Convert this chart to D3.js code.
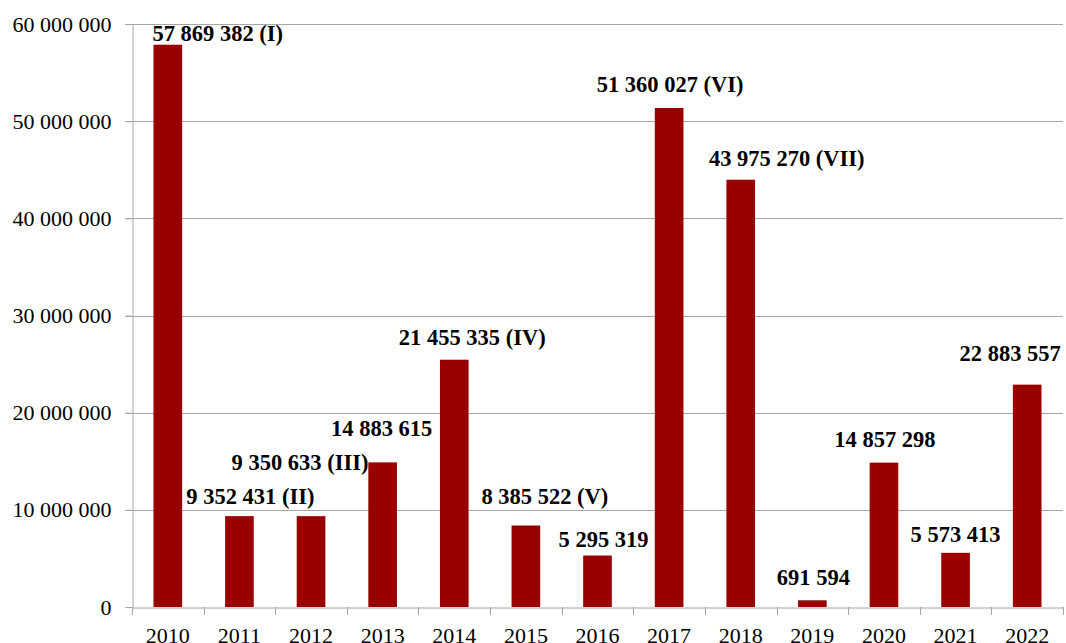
<!DOCTYPE html>
<html>
<head>
<meta charset="utf-8">
<script src="https://cdn.jsdelivr.net/npm/d3@7"></script>
<style>
  html, body { margin: 0; padding: 0; background: #fff; }
  svg { display: block; }
</style>
</head>
<body>
<svg id="chart" width="1066" height="643"></svg>
<script>
// ---- data ----
const years = ["2010","2011","2012","2013","2014","2015","2016","2017","2018","2019","2020","2021","2022"];
const values = [57869382, 9352431, 9350633, 14883615, 25450000, 8385522, 5295319, 51360027, 43975270, 691594, 14857298, 5573413, 22883557];
const labels = ["57 869 382 (I)", "9 352 431 (II)", "9 350 633 (III)", "14 883 615", "21 455 335 (IV)", "8 385 522 (V)", "5 295 319", "51 360 027 (VI)", "43 975 270 (VII)", "691 594", "14 857 298", "5 573 413", "22 883 557"];
const yTicks = [0, 10000000, 20000000, 30000000, 40000000, 50000000, 60000000];

// ---- manual label placement (as in the original, layout only) ----
const labelDx = [50, 11, -11, -1, 18, 19, 6, 1, 46, 1, 1, 0, -17];
const labelDy = [4, 12, 46, 26, 15, 22, 9, 16, 14, 15, 16, 11, 24];

const svg = d3.select("#chart");
const m = {left: 132, right: 1063, top: 24, bottom: 607};

const x = d3.scaleBand().domain(years).range([m.left, m.right]).paddingInner(0.6).paddingOuter(0.3);
const xb = d3.scaleBand().domain(years).range([m.left, m.right]);
const y = d3.scaleLinear().domain([0, 60000000]).range([m.bottom, m.top]);

const fmt = v => d3.format(",")(v).replace(/,/g, " ");
const gridColor = "#a6a6a6";

// gridlines
svg.append("g").selectAll("line").data(yTicks.filter(d => d > 0)).join("line")
  .attr("x1", m.left - 7).attr("x2", m.right)
  .attr("y1", d => Math.round(y(d)) + 0.5).attr("y2", d => Math.round(y(d)) + 0.5)
  .attr("stroke", gridColor).attr("stroke-width", 1);

// y axis
const yAxis = svg.append("g").attr("transform", `translate(${m.left + 0.5},0)`)
  .call(d3.axisLeft(y).tickValues(yTicks).tickFormat(fmt).tickSize(7).tickPadding(14));
yAxis.select(".domain").attr("stroke", gridColor);
yAxis.selectAll(".tick line").attr("stroke", gridColor);
yAxis.selectAll(".tick text")
  .attr("font-family", "'Liberation Serif', 'Times New Roman', serif")
  .attr("font-size", 22).attr("fill", "#000").attr("dy", "0.32em");

// bars
svg.append("g").selectAll("rect").data(values).join("rect")
  .attr("x", (d, i) => x(years[i]))
  .attr("width", x.bandwidth())
  .attr("y", d => y(d))
  .attr("height", d => y(0) - y(d))
  .attr("fill", "#990000");

// x axis
const xAxis = svg.append("g").attr("transform", `translate(0,${Math.round(m.bottom) + 0.5})`)
  .call(d3.axisBottom(xb).tickSize(0).tickPadding(20));
xAxis.select(".domain").attr("stroke", gridColor);
xAxis.selectAll(".tick text")
  .attr("font-family", "'Liberation Serif', 'Times New Roman', serif")
  .attr("font-size", 22).attr("fill", "#000");
// tick marks at band boundaries
svg.append("g").selectAll("line").data(years.concat(["end"])).join("line")
  .attr("x1", (d, i) => Math.round(m.left + i * xb.step()) + 0.5)
  .attr("x2", (d, i) => Math.round(m.left + i * xb.step()) + 0.5)
  .attr("y1", m.bottom).attr("y2", m.bottom + 8)
  .attr("stroke", gridColor);

// data labels
svg.append("g").selectAll("text").data(labels).join("text")
  .attr("x", (d, i) => x(years[i]) + x.bandwidth() / 2 + labelDx[i])
  .attr("y", (d, i) => y(values[i]) - labelDy[i])
  .attr("text-anchor", "middle")
  .attr("font-family", "'Liberation Serif', 'Times New Roman', serif")
  .attr("font-weight", "bold")
  .attr("font-size", 22.5)
  .attr("fill", "#000")
  .text(d => d);
</script>
</body>
</html>
